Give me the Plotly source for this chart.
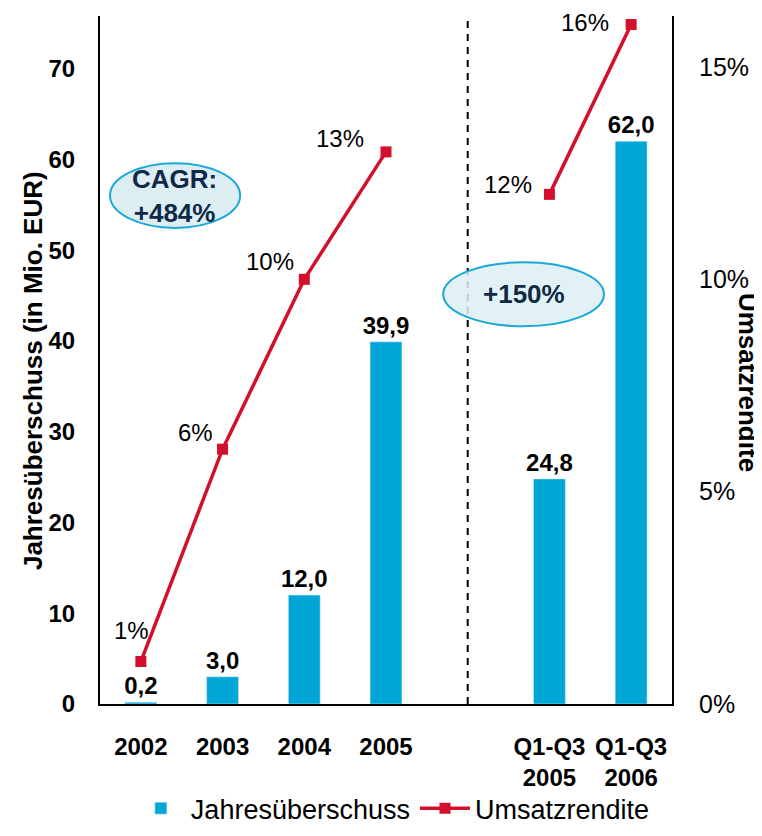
import plotly.graph_objects as go

# data
categories = ['2002', '2003', '2004', '2005', ' ', 'Q1-Q3<br>2005', 'Q1-Q3<br>2006']
jahresueberschuss = [0.2, 3.0, 12.0, 39.9, None, 24.8, 62.0]
umsatzrendite = [1, 6, 10, 13, None, 12, 16]

bar_col = '#00A6D6'
line_col = '#D2102C'
font_fam = 'Liberation Sans, Arial, sans-serif'

# label nudges for the percent labels (style only)
pct_dx = [10, -8, -8, -20, None, -15, -20]
pct_dy = [31, 17, 18, 13, None, 10, 2]

fig = go.Figure()

fig.add_trace(go.Bar(x=categories,
                     y=jahresueberschuss,
                     name='Jahresüberschuss',
                     marker=dict(color=bar_col),
                     width=0.39,
                     texttemplate='%{y:.1f}',
                     textposition='outside',
                     constraintext='none',
                     cliponaxis=False,
                     textfont=dict(size=24, color='black', weight='bold')))

fig.add_trace(go.Scatter(x=categories,
                         y=umsatzrendite,
                         name='Umsatzrendite',
                         yaxis='y2',
                         mode='lines+markers',
                         connectgaps=False,
                         line=dict(color=line_col, width=3.5),
                         marker=dict(symbol='square', size=11, color=line_col),
                         cliponaxis=False))

# percent labels, placed at the category index of each point
for i, (val, dx, dy) in enumerate(zip(umsatzrendite, pct_dx, pct_dy)):
    if val is None:
        continue
    fig.add_annotation(x=i, y=val, xref='x', yref='y2', text=f'{val}%',
                       showarrow=False, xanchor='right', yanchor='middle',
                       xshift=dx, yshift=dy,
                       font=dict(size=24, color='black'))

# dashed separator between years and quarters
fig.add_shape(type='line', xref='x', yref='paper', x0=4, x1=4, y0=0, y1=1,
              line=dict(color='black', width=2, dash='7px,6px'))

# highlight ellipses
fig.add_shape(type='circle', xref='paper', yref='paper',
              x0=0.0175, x1=0.245, y0=0.692, y1=0.786,
              fillcolor='#DDEEF3', line=dict(color='#1AA8D4', width=2))
fig.add_shape(type='circle', xref='paper', yref='paper',
              x0=0.600, x1=0.881, y0=0.549, y1=0.642,
              fillcolor='rgba(221,238,243,0.85)', line=dict(color='#1AA8D4', width=2))

fig.add_annotation(x=0.131, y=0.738, xref='paper', yref='paper',
                   xanchor='center', yanchor='middle',
                   text='CAGR:<br>+484%', showarrow=False,
                   font=dict(size=26, color='#0F2A47', weight='bold'))
fig.add_annotation(x=0.741, y=0.596, xref='paper', yref='paper',
                   xanchor='center', yanchor='middle',
                   text='+150%', showarrow=False,
                   font=dict(size=26, color='#0F2A47', weight='bold'))

# axis titles
fig.add_annotation(x=-0.117, y=0.484, xref='paper', yref='paper',
                   xanchor='center', yanchor='middle',
                   text='Jahresüberschuss (in Mio. EUR)', textangle=-90, showarrow=False,
                   font=dict(size=26, color='black', weight='bold'))
fig.add_annotation(x=1.133, y=0.468, xref='paper', yref='paper',
                   xanchor='center', yanchor='middle',
                   text='Umsatzrendite', textangle=90, showarrow=False,
                   font=dict(size=26, color='black', weight='bold'))

fig.update_layout(width=754, height=828,
                  margin=dict(l=92, r=90, t=8, b=132, autoexpand=False),
                  plot_bgcolor='white', paper_bgcolor='white',
                  separators=',.',
                  font=dict(family=font_fam, color='black'),
                  showlegend=True,
                  legend=dict(orientation='h', x=0.512, xanchor='center',
                              y=-0.152, yanchor='middle',
                              bgcolor='rgba(0,0,0,0)',
                              font=dict(size=27), itemwidth=50),
                  xaxis=dict(type='category', categoryorder='array', categoryarray=categories,
                             range=[-0.5, len(categories) - 0.5],
                             showline=True, linecolor='black', linewidth=2,
                             showgrid=False, ticks='', ticklabelstandoff=20,
                             tickfont=dict(size=24, weight='bold')),
                  yaxis=dict(range=[0, 75.8], dtick=10, showgrid=False,
                             showline=True, linecolor='black', linewidth=2,
                             ticks='', zeroline=False, ticklabelstandoff=18,
                             tickfont=dict(size=24, weight='bold')),
                  yaxis2=dict(range=[0, 16.2], dtick=5, ticksuffix='%',
                              overlaying='y', side='right', showgrid=False,
                              showline=True, linecolor='black', linewidth=2,
                              ticks='', zeroline=False, ticklabelstandoff=20,
                              tickfont=dict(size=25)))

fig.write_html("out.html")
